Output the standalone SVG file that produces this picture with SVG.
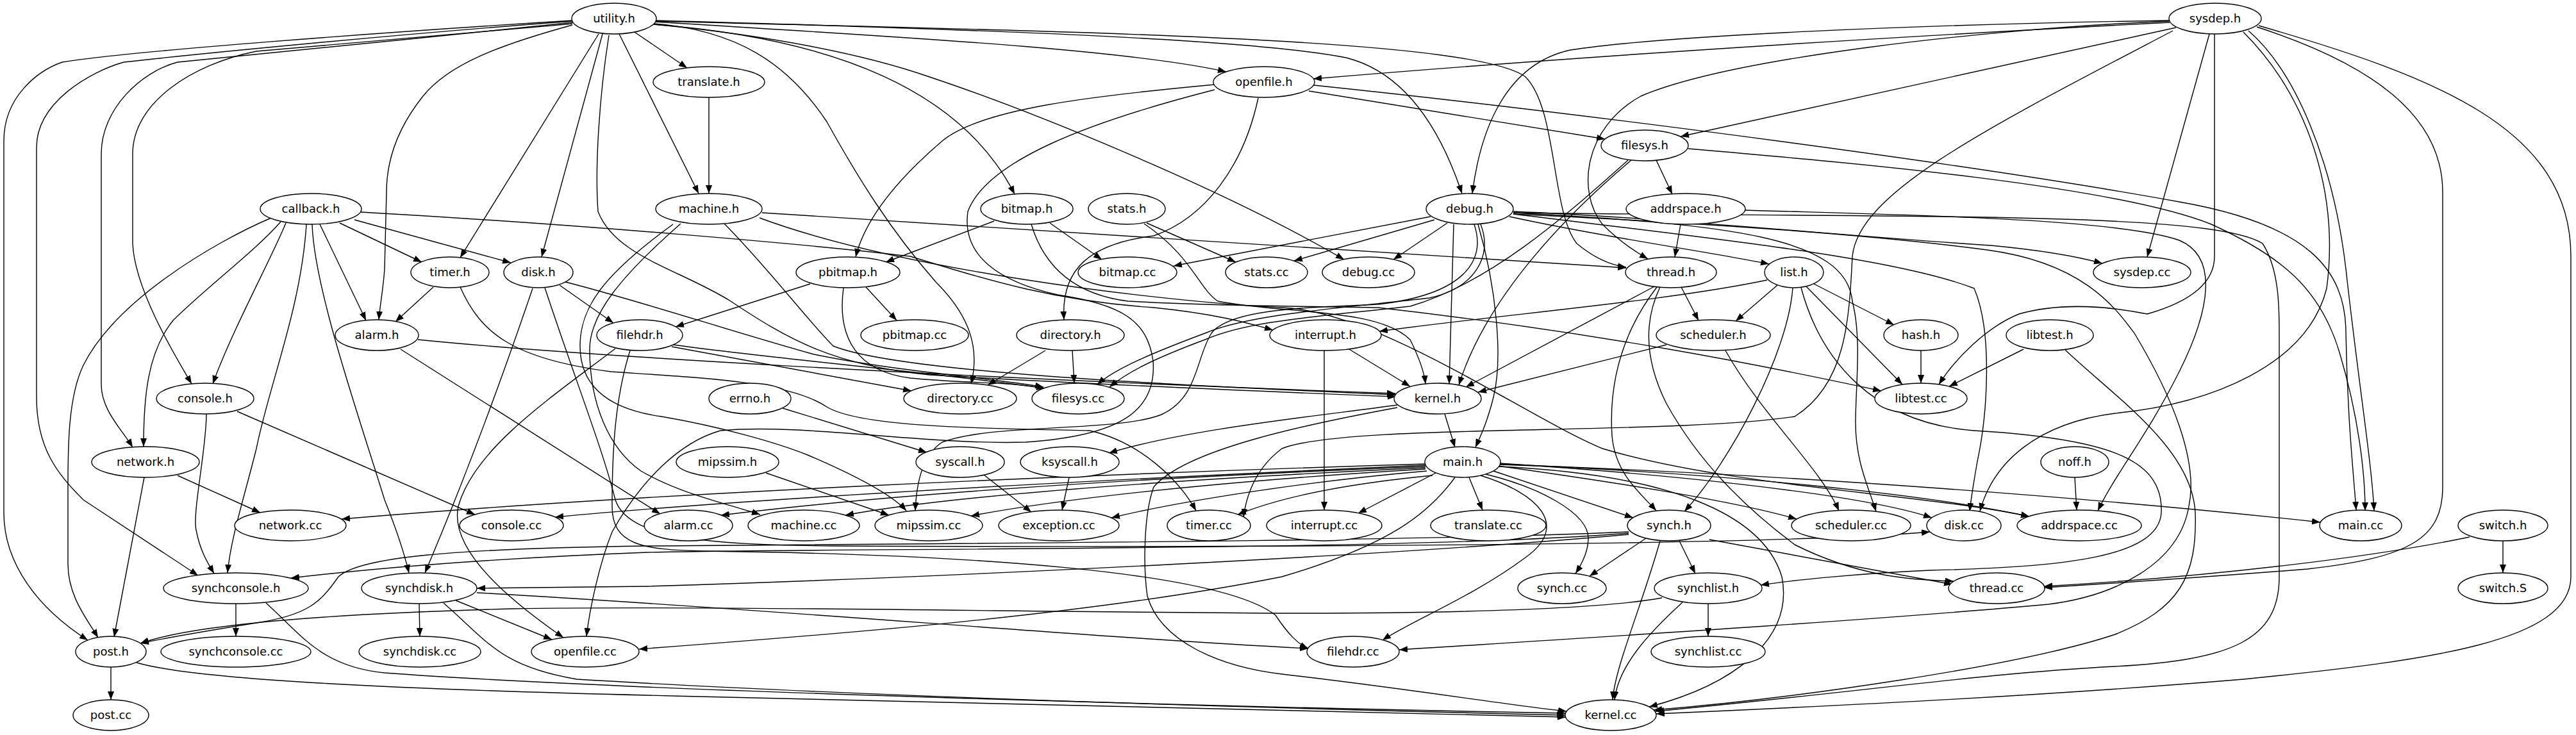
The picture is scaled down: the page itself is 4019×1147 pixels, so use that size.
<svg xmlns="http://www.w3.org/2000/svg" width="4019" height="1147" viewBox="0 0 4019 1147">
<defs>
<marker id="a" markerWidth="14" markerHeight="10" refX="13" refY="5" orient="auto" markerUnits="userSpaceOnUse"><path d="M0,0 L13,5 L0,10 z" fill="#000"/></marker>
<style>
.n ellipse{fill:#fff;stroke:#000;stroke-width:1.4}
.n text{font-family:"DejaVu Sans","Liberation Sans",sans-serif;font-size:18px;text-anchor:middle;fill:#000}
.e path{fill:none;stroke:#000;stroke-width:1.4;marker-end:url(#a)}
</style>
</defs>
<rect width="4019" height="1147" fill="#fff"/>
<g id="edges" class="e">
<path d="M 990,50 L 1072,106"/>
<path d="M 966,53 L 1090,302"/>
<path d="M 1022,34 C 1350,55 1750,75 1913,112"/>
<path d="M 1020,38 C 1300,60 1500,140 1583,303"/>
<path d="M 1022,32 C 1500,45 1950,60 2100,90 C 2180,110 2240,180 2281,302"/>
<path d="M 1020,38 C 1200,55 1350,85 1450,120 C 1600,170 1900,290 2097,405"/>
<path d="M 1010,36 C 1150,45 1230,100 1290,190 C 1340,280 1390,360 1460,440 C 1510,490 1530,540 1515,599"/>
<path d="M 934,53 L 718,402"/>
<path d="M 940,53 L 845,401"/>
<path d="M 893,39 C 780,70 700,100 660,150 C 620,200 603,250 603,300 L 600,420 C 598,450 593,475 591,499"/>
<path d="M 893,37 C 700,55 500,70 400,80 C 300,100 207,160 207,240 L 207,380 C 210,450 270,550 299,599"/>
<path d="M 894,35 C 700,55 400,85 277,97 C 220,112 158,170 158,240 L 158,600 C 158,640 190,670 207,698"/>
<path d="M 893,33 C 600,55 300,85 193,97 C 140,112 57,160 57,230 L 57,620 C 57,700 90,740 130,780 L 309,898"/>
<path d="M 893,32 C 600,50 200,80 97,97 C 60,110 6,150 6,220 L 6,800 C 6,880 60,950 137,999"/>
<path d="M 1022,33 C 1700,50 2300,60 2380,120 C 2430,170 2420,330 2460,380 C 2490,405 2515,414 2537,417"/>
<path d="M 950,55 C 935,150 928,260 933,330 C 960,400 1060,420 1140,470 C 1230,530 1300,570 1450,585 C 1700,600 2000,612 2178,619"/>
<path d="M 3385,35 C 3000,55 2500,85 2049,123"/>
<path d="M 3395,43 L 2622,213"/>
<path d="M 3384,32 C 3000,38 2600,55 2450,78 C 2350,100 2310,200 2297,302"/>
<path d="M 3384,33 C 3100,45 2700,90 2560,150 C 2470,200 2460,300 2500,350 C 2530,380 2555,395 2571,404"/>
<path d="M 3447,53 L 3350,401"/>
<path d="M 3455,53 L 3455,400 C 3455,440 3420,470 3350,490 C 3300,480 3220,470 3150,490 C 3100,510 3050,560 3025,600"/>
<path d="M 3524,40 C 3800,120 4011,200 4011,400 L 4011,900 C 4011,1000 3800,1030 3500,1060 C 3200,1085 2900,1100 2584,1114"/>
<path d="M 3508,48 C 3580,110 3640,250 3660,420 C 3680,600 3700,720 3704,797"/>
<path d="M 3521,42 C 3700,100 3811,180 3811,300 L 3811,760 C 3811,840 3760,870 3600,888 C 3450,900 3300,910 3189,917"/>
<path d="M 3390,48 C 3100,200 2900,300 2890,400 C 2885,500 2880,600 2800,650 C 2600,680 2100,660 2000,700 C 1960,730 1945,770 1940,807"/>
<path d="M 3500,50 C 3600,150 3650,300 3630,450 C 3600,570 3450,630 3300,645 C 3180,660 3110,720 3089,798"/>
<path d="M 1106,152 L 1106,302"/>
<path d="M 2042,142 L 2504,217"/>
<path d="M 1895,132 C 1700,150 1530,170 1470,220 C 1400,280 1350,340 1335,401"/>
<path d="M 1963,153 C 1940,260 1880,340 1800,368 C 1700,380 1655,420 1660,499"/>
<path d="M 2050,133 C 2500,180 3100,260 3400,315 C 3600,350 3660,420 3660,520 C 3662,650 3672,740 3676,796"/>
<path d="M 1895,140 C 1700,190 1540,250 1510,330 C 1500,400 1560,440 1650,460 C 1750,475 1790,500 1799,563 C 1805,640 1750,680 1600,690 C 1450,695 1250,660 1124,672 C 1060,690 1000,750 955,830 C 935,880 920,950 915,993"/>
<path d="M 2584,250 L 2609,303"/>
<path d="M 2545,250 C 2450,330 2320,460 2276,601"/>
<path d="M 2540,250 C 2450,330 2330,440 2200,478 C 2050,495 1950,500 1880,530 C 1800,560 1760,580 1731,604"/>
<path d="M 2634,232 C 2900,255 3300,290 3450,350 C 3560,400 3620,450 3650,550 C 3680,650 3690,740 3690,797"/>
<path d="M 530,348 L 658,409"/>
<path d="M 553,343 L 797,410"/>
<path d="M 499,350 L 571,500"/>
<path d="M 446,348 C 425,400 360,520 332,599"/>
<path d="M 438,346 C 400,390 320,450 270,500 C 230,550 224,620 224,697"/>
<path d="M 478,350 C 470,480 420,600 400,700 C 380,780 360,840 355,894"/>
<path d="M 487,350 C 490,450 560,650 600,780 C 620,830 630,860 638,894"/>
<path d="M 423,340 C 330,380 180,470 130,570 C 106,620 106,700 106,760 L 106,880 C 106,930 135,965 153,995"/>
<path d="M 563,331 C 900,350 1250,380 1420,400 C 1550,440 1650,470 1800,480 C 1900,490 1950,505 1986,515"/>
<path d="M 1189,332 C 1700,365 2200,395 2537,418"/>
<path d="M 1130,349 C 1200,420 1260,500 1300,540 C 1400,580 1800,600 2177,616"/>
<path d="M 1062,349 C 970,430 920,490 920,545 C 920,630 950,700 1000,735 C 1060,770 1130,785 1186,803"/>
<path d="M 1050,350 C 940,430 905,480 905,540 C 905,610 960,640 1032,650 C 1120,665 1210,690 1260,710 C 1330,740 1390,770 1414,797"/>
<path d="M 1185,340 C 1400,420 1800,470 2000,480 C 2150,485 2380,650 2500,700 C 2700,760 3000,770 3166,806"/>
<path d="M 1551,345 L 1382,409"/>
<path d="M 1638,348 L 1719,405"/>
<path d="M 1609,350 C 1630,420 1680,460 1760,470 C 1900,478 2050,478 2150,480 C 2500,520 2750,570 2935,610"/>
<path d="M 1789,348 L 1928,409"/>
<path d="M 1785,349 C 1860,400 1870,450 1900,470 C 2000,490 2150,480 2200,530 C 2215,560 2222,580 2224,599"/>
<path d="M 2232,338 L 1831,415"/>
<path d="M 2238,343 L 2019,407"/>
<path d="M 2258,348 L 2174,405"/>
<path d="M 2355,338 C 2500,370 2650,390 2760,412"/>
<path d="M 2361,330 C 2600,340 2900,370 3106,383 C 3180,390 3240,400 3280,411"/>
<path d="M 2268,350 L 2261,599"/>
<path d="M 2306,350 C 2335,450 2345,560 2330,620 C 2320,660 2310,680 2302,698"/>
<path d="M 2310,350 C 2330,400 2300,450 2230,465 C 2100,480 1950,490 1880,520 C 1800,550 1740,575 1712,600"/>
<path d="M 2300,350 C 2320,410 2280,460 2150,475 C 2050,480 1920,480 1890,520 C 1865,560 1870,620 1812,647 C 1740,675 1550,660 1470,690 C 1440,710 1430,750 1428,797"/>
<path d="M 2361,334 C 2650,370 2950,400 3080,450 C 3110,520 3100,650 3085,720 C 3078,760 3075,780 3073,798"/>
<path d="M 2361,332 C 2700,350 2880,370 2890,470 C 2905,530 2895,600 2895,660 C 2895,720 2915,760 2927,798"/>
<path d="M 2361,334 C 2700,350 2950,370 3100,390 C 3250,410 3300,480 3330,520 C 3390,620 3430,720 3415,790 C 3400,880 3300,930 3196,943 C 2900,970 2400,1000 2183,1014"/>
<path d="M 2361,332 C 3000,340 3450,330 3530,380 C 3556,420 3556,480 3556,520 L 3556,900 C 3556,1000 3480,1030 3300,1040 C 3100,1050 2900,1080 2583,1110"/>
<path d="M 2622,350 L 2613,401"/>
<path d="M 2723,328 C 2950,335 3300,340 3400,375 C 3460,400 3450,480 3400,580 C 3350,680 3300,740 3273,797"/>
<path d="M 676,448 L 617,502"/>
<path d="M 718,448 C 750,520 800,560 953,580 C 1100,590 1230,595 1290,635 C 1340,665 1500,668 1700,672 C 1780,690 1840,750 1866,797"/>
<path d="M 873,445 L 957,504"/>
<path d="M 882,440 C 1000,470 1150,520 1270,553 C 1400,580 1550,590 1628,604"/>
<path d="M 831,450 C 780,600 720,760 663,894"/>
<path d="M 850,449 C 900,600 940,700 960,780 C 980,840 1100,850 1300,852 C 2000,855 2800,850 3011,830"/>
<path d="M 1264,443 L 1054,510"/>
<path d="M 1351,448 L 1399,500"/>
<path d="M 1316,449 C 1305,530 1340,580 1420,590 C 1500,598 1580,596 1630,606"/>
<path d="M 2623,448 L 2650,500"/>
<path d="M 2585,445 L 2287,604"/>
<path d="M 2585,448 C 2530,520 2510,600 2515,680 C 2520,740 2560,770 2584,797"/>
<path d="M 2590,448 C 2565,500 2565,560 2600,630 C 2650,720 2720,790 2800,850 C 2900,900 2980,905 3048,907"/>
<path d="M 2757,437 C 2600,470 2350,490 2152,517"/>
<path d="M 2773,445 L 2708,501"/>
<path d="M 2830,443 L 2955,507"/>
<path d="M 2818,447 L 2968,600"/>
<path d="M 2797,449 C 2790,550 2700,720 2628,798"/>
<path d="M 2810,449 C 2840,560 2920,660 3080,672 C 3300,685 3375,720 3372,800 C 3368,870 3220,885 3010,890 C 2900,895 2800,905 2747,913"/>
<path d="M 652,530 C 900,555 1500,590 2177,614"/>
<path d="M 625,545 L 1030,802"/>
<path d="M 1048,541 L 1422,610"/>
<path d="M 1050,538 C 1250,565 1450,580 1630,606"/>
<path d="M 983,547 C 960,620 955,700 955,790 C 955,850 1000,858 1100,860 C 1500,865 1900,890 1990,960 C 2010,990 2025,1005 2041,1012"/>
<path d="M 960,544 C 860,620 740,700 715,790 C 700,860 800,940 879,995"/>
<path d="M 1631,547 L 1541,601"/>
<path d="M 1673,547 L 1676,598"/>
<path d="M 2105,545 L 2200,603"/>
<path d="M 2066,547 L 2066,796"/>
<path d="M 2600,538 L 2306,612"/>
<path d="M 2692,547 C 2750,650 2840,730 2869,797"/>
<path d="M 2997,547 L 2997,598"/>
<path d="M 3157,545 L 3041,603"/>
<path d="M 3222,546 C 3300,620 3420,700 3425,800 C 3428,900 3400,950 3300,990 C 3150,1040 2800,1090 2580,1108"/>
<path d="M 370,642 L 741,803"/>
<path d="M 322,646 C 322,700 300,800 306,827 C 312,860 325,880 334,895"/>
<path d="M 1221,637 L 1446,706"/>
<path d="M 2254,646 L 2270,698"/>
<path d="M 2180,632 C 2050,650 1850,670 1730,707"/>
<path d="M 2180,636 C 2050,660 1850,700 1800,760 C 1785,800 1783,880 1790,930 C 1810,1000 1900,1040 2000,1052 C 2200,1075 2350,1100 2444,1110"/>
<path d="M 277,742 L 406,800"/>
<path d="M 225,745 L 178,994"/>
<path d="M 1195,738 L 1387,804"/>
<path d="M 1535,741 L 1609,799"/>
<path d="M 1668,745 L 1657,796"/>
<path d="M 2224,724 C 1700,740 1000,770 533,810"/>
<path d="M 2224,726 C 1800,745 1200,775 866,807"/>
<path d="M 2224,728 C 1800,745 1400,770 1125,804"/>
<path d="M 2224,730 C 1900,745 1500,770 1319,804"/>
<path d="M 2224,732 C 2000,745 1700,770 1515,805"/>
<path d="M 2226,735 C 2050,750 1850,780 1734,808"/>
<path d="M 2235,742 C 2100,755 2000,775 1931,803"/>
<path d="M 2240,738 L 2119,801"/>
<path d="M 2292,745 L 2313,796"/>
<path d="M 2330,735 L 2548,808"/>
<path d="M 2318,740 C 2400,760 2478,800 2478,840 C 2478,860 2468,880 2458,895"/>
<path d="M 2337,727 C 2500,750 2700,780 2803,810"/>
<path d="M 2340,723 C 2600,740 2900,770 3014,808"/>
<path d="M 2340,724 C 2700,740 3000,770 3166,806"/>
<path d="M 2340,725 C 2800,740 3300,780 3620,815"/>
<path d="M 2310,742 C 2400,770 2450,820 2380,870 C 2300,930 2200,970 2157,999"/>
<path d="M 2270,745 C 2230,800 2170,850 2000,900 C 1700,960 1300,990 997,1013"/>
<path d="M 2338,728 C 2600,740 2750,800 2780,900 C 2800,1000 2700,1070 2573,1103"/>
<path d="M 3237,745 L 3240,796"/>
<path d="M 2541,832 C 2200,860 1300,855 1010,862 C 800,870 600,885 454,902"/>
<path d="M 2541,834 C 2200,865 1500,900 1010,915 L 744,918"/>
<path d="M 2541,830 C 2200,845 1500,848 1010,852 C 700,856 560,870 528,900 C 500,940 480,960 400,972 C 320,985 260,995 219,1004"/>
<path d="M 2568,840 L 2480,899"/>
<path d="M 2620,844 L 2645,895"/>
<path d="M 2667,842 L 3046,912"/>
<path d="M 2590,844 C 2560,950 2520,1040 2516,1092"/>
<path d="M 3905,844 L 3905,894"/>
<path d="M 3853,838 C 3700,870 3450,900 3189,915"/>
<path d="M 368,942 L 368,993"/>
<path d="M 415,941 C 470,990 500,1040 600,1050 C 1000,1080 2000,1105 2443,1113"/>
<path d="M 654,942 L 655,993"/>
<path d="M 711,937 L 861,998"/>
<path d="M 744,925 C 1200,950 1700,995 2041,1012"/>
<path d="M 692,941 C 760,1000 780,1040 900,1060 C 1400,1090 2100,1108 2442,1116"/>
<path d="M 2665,942 L 2665,993"/>
<path d="M 2593,933 C 2500,950 2300,957 2000,957 C 1600,955 1100,945 800,950 C 500,958 300,975 219,1004"/>
<path d="M 2625,940 C 2570,990 2525,1040 2519,1092"/>
<path d="M 173,1041 L 173,1092"/>
<path d="M 213,1034 C 300,1060 600,1075 1010,1085 C 1600,1100 2200,1115 2443,1119"/>
</g>
<g id="n-utility_h" class="n"><ellipse cx="958" cy="29" rx="66" ry="24"/><text x="958" y="35">utility.h</text></g>
<g id="n-sysdep_h" class="n"><ellipse cx="3456" cy="29" rx="72" ry="24"/><text x="3456" y="35">sysdep.h</text></g>
<g id="n-translate_h" class="n"><ellipse cx="1106" cy="128" rx="87" ry="24"/><text x="1106" y="134">translate.h</text></g>
<g id="n-openfile_h" class="n"><ellipse cx="1972" cy="128" rx="79" ry="24"/><text x="1972" y="134">openfile.h</text></g>
<g id="n-filesys_h" class="n"><ellipse cx="2566" cy="227" rx="68" ry="24"/><text x="2566" y="233">filesys.h</text></g>
<g id="n-callback_h" class="n"><ellipse cx="485" cy="326" rx="79" ry="24"/><text x="485" y="332">callback.h</text></g>
<g id="n-machine_h" class="n"><ellipse cx="1106" cy="326" rx="83" ry="24"/><text x="1106" y="332">machine.h</text></g>
<g id="n-bitmap_h" class="n"><ellipse cx="1602" cy="326" rx="72" ry="24"/><text x="1602" y="332">bitmap.h</text></g>
<g id="n-stats_h" class="n"><ellipse cx="1758" cy="326" rx="60" ry="24"/><text x="1758" y="332">stats.h</text></g>
<g id="n-debug_h" class="n"><ellipse cx="2293" cy="326" rx="68" ry="24"/><text x="2293" y="332">debug.h</text></g>
<g id="n-addrspace_h" class="n"><ellipse cx="2630" cy="326" rx="93" ry="24"/><text x="2630" y="332">addrspace.h</text></g>
<g id="n-timer_h" class="n"><ellipse cx="702" cy="425" rx="61" ry="24"/><text x="702" y="431">timer.h</text></g>
<g id="n-disk_h" class="n"><ellipse cx="840" cy="425" rx="54" ry="24"/><text x="840" y="431">disk.h</text></g>
<g id="n-pbitmap_h" class="n"><ellipse cx="1323" cy="425" rx="81" ry="24"/><text x="1323" y="431">pbitmap.h</text></g>
<g id="n-bitmap_cc" class="n"><ellipse cx="1759" cy="425" rx="77" ry="24"/><text x="1759" y="431">bitmap.cc</text></g>
<g id="n-stats_cc" class="n"><ellipse cx="1976" cy="425" rx="64" ry="24"/><text x="1976" y="431">stats.cc</text></g>
<g id="n-debug_cc" class="n"><ellipse cx="2135" cy="425" rx="72" ry="24"/><text x="2135" y="431">debug.cc</text></g>
<g id="n-thread_h" class="n"><ellipse cx="2607" cy="425" rx="71" ry="24"/><text x="2607" y="431">thread.h</text></g>
<g id="n-list_h" class="n"><ellipse cx="2799" cy="425" rx="46" ry="24"/><text x="2799" y="431">list.h</text></g>
<g id="n-sysdep_cc" class="n"><ellipse cx="3342" cy="425" rx="76" ry="24"/><text x="3342" y="431">sysdep.cc</text></g>
<g id="n-alarm_h" class="n"><ellipse cx="588" cy="523" rx="65" ry="24"/><text x="588" y="529">alarm.h</text></g>
<g id="n-filehdr_h" class="n"><ellipse cx="998" cy="523" rx="67" ry="24"/><text x="998" y="529">filehdr.h</text></g>
<g id="n-pbitmap_cc" class="n"><ellipse cx="1427" cy="523" rx="84" ry="24"/><text x="1427" y="529">pbitmap.cc</text></g>
<g id="n-directory_h" class="n"><ellipse cx="1670" cy="523" rx="84" ry="24"/><text x="1670" y="529">directory.h</text></g>
<g id="n-interrupt_h" class="n"><ellipse cx="2068" cy="523" rx="87" ry="24"/><text x="2068" y="529">interrupt.h</text></g>
<g id="n-scheduler_h" class="n"><ellipse cx="2673" cy="523" rx="89" ry="24"/><text x="2673" y="529">scheduler.h</text></g>
<g id="n-hash_h" class="n"><ellipse cx="2997" cy="523" rx="58" ry="24"/><text x="2997" y="529">hash.h</text></g>
<g id="n-libtest_h" class="n"><ellipse cx="3198" cy="523" rx="68" ry="24"/><text x="3198" y="529">libtest.h</text></g>
<g id="n-console_h" class="n"><ellipse cx="320" cy="622" rx="76" ry="24"/><text x="320" y="628">console.h</text></g>
<g id="n-errno_h" class="n"><ellipse cx="1170" cy="622" rx="64" ry="24"/><text x="1170" y="628">errno.h</text></g>
<g id="n-directory_cc" class="n"><ellipse cx="1498" cy="622" rx="88" ry="24"/><text x="1498" y="628">directory.cc</text></g>
<g id="n-filesys_cc" class="n"><ellipse cx="1682" cy="622" rx="72" ry="24"/><text x="1682" y="628">filesys.cc</text></g>
<g id="n-kernel_h" class="n"><ellipse cx="2243" cy="622" rx="68" ry="24"/><text x="2243" y="628">kernel.h</text></g>
<g id="n-libtest_cc" class="n"><ellipse cx="2997" cy="622" rx="72" ry="24"/><text x="2997" y="628">libtest.cc</text></g>
<g id="n-network_h" class="n"><ellipse cx="227" cy="721" rx="84" ry="24"/><text x="227" y="727">network.h</text></g>
<g id="n-mipssim_h" class="n"><ellipse cx="1135" cy="721" rx="80" ry="24"/><text x="1135" y="727">mipssim.h</text></g>
<g id="n-syscall_h" class="n"><ellipse cx="1498" cy="721" rx="69" ry="24"/><text x="1498" y="727">syscall.h</text></g>
<g id="n-ksyscall_h" class="n"><ellipse cx="1669" cy="721" rx="77" ry="24"/><text x="1669" y="727">ksyscall.h</text></g>
<g id="n-main_h" class="n"><ellipse cx="2282" cy="721" rx="59" ry="24"/><text x="2282" y="727">main.h</text></g>
<g id="n-noff_h" class="n"><ellipse cx="3237" cy="721" rx="53" ry="24"/><text x="3237" y="727">noff.h</text></g>
<g id="n-network_cc" class="n"><ellipse cx="453" cy="820" rx="87" ry="24"/><text x="453" y="826">network.cc</text></g>
<g id="n-console_cc" class="n"><ellipse cx="798" cy="820" rx="81" ry="24"/><text x="798" y="826">console.cc</text></g>
<g id="n-alarm_cc" class="n"><ellipse cx="1074" cy="820" rx="69" ry="24"/><text x="1074" y="826">alarm.cc</text></g>
<g id="n-machine_cc" class="n"><ellipse cx="1254" cy="820" rx="87" ry="24"/><text x="1254" y="826">machine.cc</text></g>
<g id="n-mipssim_cc" class="n"><ellipse cx="1449" cy="820" rx="84" ry="24"/><text x="1449" y="826">mipssim.cc</text></g>
<g id="n-exception_cc" class="n"><ellipse cx="1652" cy="820" rx="94" ry="24"/><text x="1652" y="826">exception.cc</text></g>
<g id="n-timer_cc" class="n"><ellipse cx="1886" cy="820" rx="65" ry="24"/><text x="1886" y="826">timer.cc</text></g>
<g id="n-interrupt_cc" class="n"><ellipse cx="2066" cy="820" rx="90" ry="24"/><text x="2066" y="826">interrupt.cc</text></g>
<g id="n-translate_cc" class="n"><ellipse cx="2322" cy="820" rx="90" ry="24"/><text x="2322" y="826">translate.cc</text></g>
<g id="n-synch_h" class="n"><ellipse cx="2604" cy="820" rx="65" ry="24"/><text x="2604" y="826">synch.h</text></g>
<g id="n-scheduler_cc" class="n"><ellipse cx="2888" cy="820" rx="93" ry="24"/><text x="2888" y="826">scheduler.cc</text></g>
<g id="n-disk_cc" class="n"><ellipse cx="3064" cy="820" rx="58" ry="24"/><text x="3064" y="826">disk.cc</text></g>
<g id="n-addrspace_cc" class="n"><ellipse cx="3244" cy="820" rx="97" ry="24"/><text x="3244" y="826">addrspace.cc</text></g>
<g id="n-main_cc" class="n"><ellipse cx="3683" cy="820" rx="64" ry="24"/><text x="3683" y="826">main.cc</text></g>
<g id="n-switch_h" class="n"><ellipse cx="3905" cy="820" rx="70" ry="24"/><text x="3905" y="826">switch.h</text></g>
<g id="n-synchconsole_h" class="n"><ellipse cx="368" cy="918" rx="113" ry="24"/><text x="368" y="924">synchconsole.h</text></g>
<g id="n-synchdisk_h" class="n"><ellipse cx="654" cy="918" rx="90" ry="24"/><text x="654" y="924">synchdisk.h</text></g>
<g id="n-synch_cc" class="n"><ellipse cx="2437" cy="918" rx="69" ry="24"/><text x="2437" y="924">synch.cc</text></g>
<g id="n-synchlist_h" class="n"><ellipse cx="2665" cy="918" rx="84" ry="24"/><text x="2665" y="924">synchlist.h</text></g>
<g id="n-thread_cc" class="n"><ellipse cx="3115" cy="918" rx="75" ry="24"/><text x="3115" y="924">thread.cc</text></g>
<g id="n-switch_S" class="n"><ellipse cx="3905" cy="918" rx="70" ry="24"/><text x="3905" y="924">switch.S</text></g>
<g id="n-post_h" class="n"><ellipse cx="173" cy="1017" rx="55" ry="24"/><text x="173" y="1023">post.h</text></g>
<g id="n-synchconsole_cc" class="n"><ellipse cx="368" cy="1017" rx="117" ry="24"/><text x="368" y="1023">synchconsole.cc</text></g>
<g id="n-synchdisk_cc" class="n"><ellipse cx="655" cy="1017" rx="95" ry="24"/><text x="655" y="1023">synchdisk.cc</text></g>
<g id="n-openfile_cc" class="n"><ellipse cx="913" cy="1017" rx="84" ry="24"/><text x="913" y="1023">openfile.cc</text></g>
<g id="n-filehdr_cc" class="n"><ellipse cx="2111" cy="1017" rx="72" ry="24"/><text x="2111" y="1023">filehdr.cc</text></g>
<g id="n-synchlist_cc" class="n"><ellipse cx="2665" cy="1017" rx="89" ry="24"/><text x="2665" y="1023">synchlist.cc</text></g>
<g id="n-post_cc" class="n"><ellipse cx="173" cy="1116" rx="59" ry="24"/><text x="173" y="1122">post.cc</text></g>
<g id="n-kernel_cc" class="n"><ellipse cx="2513" cy="1116" rx="71" ry="24"/><text x="2513" y="1122">kernel.cc</text></g>
</svg>
